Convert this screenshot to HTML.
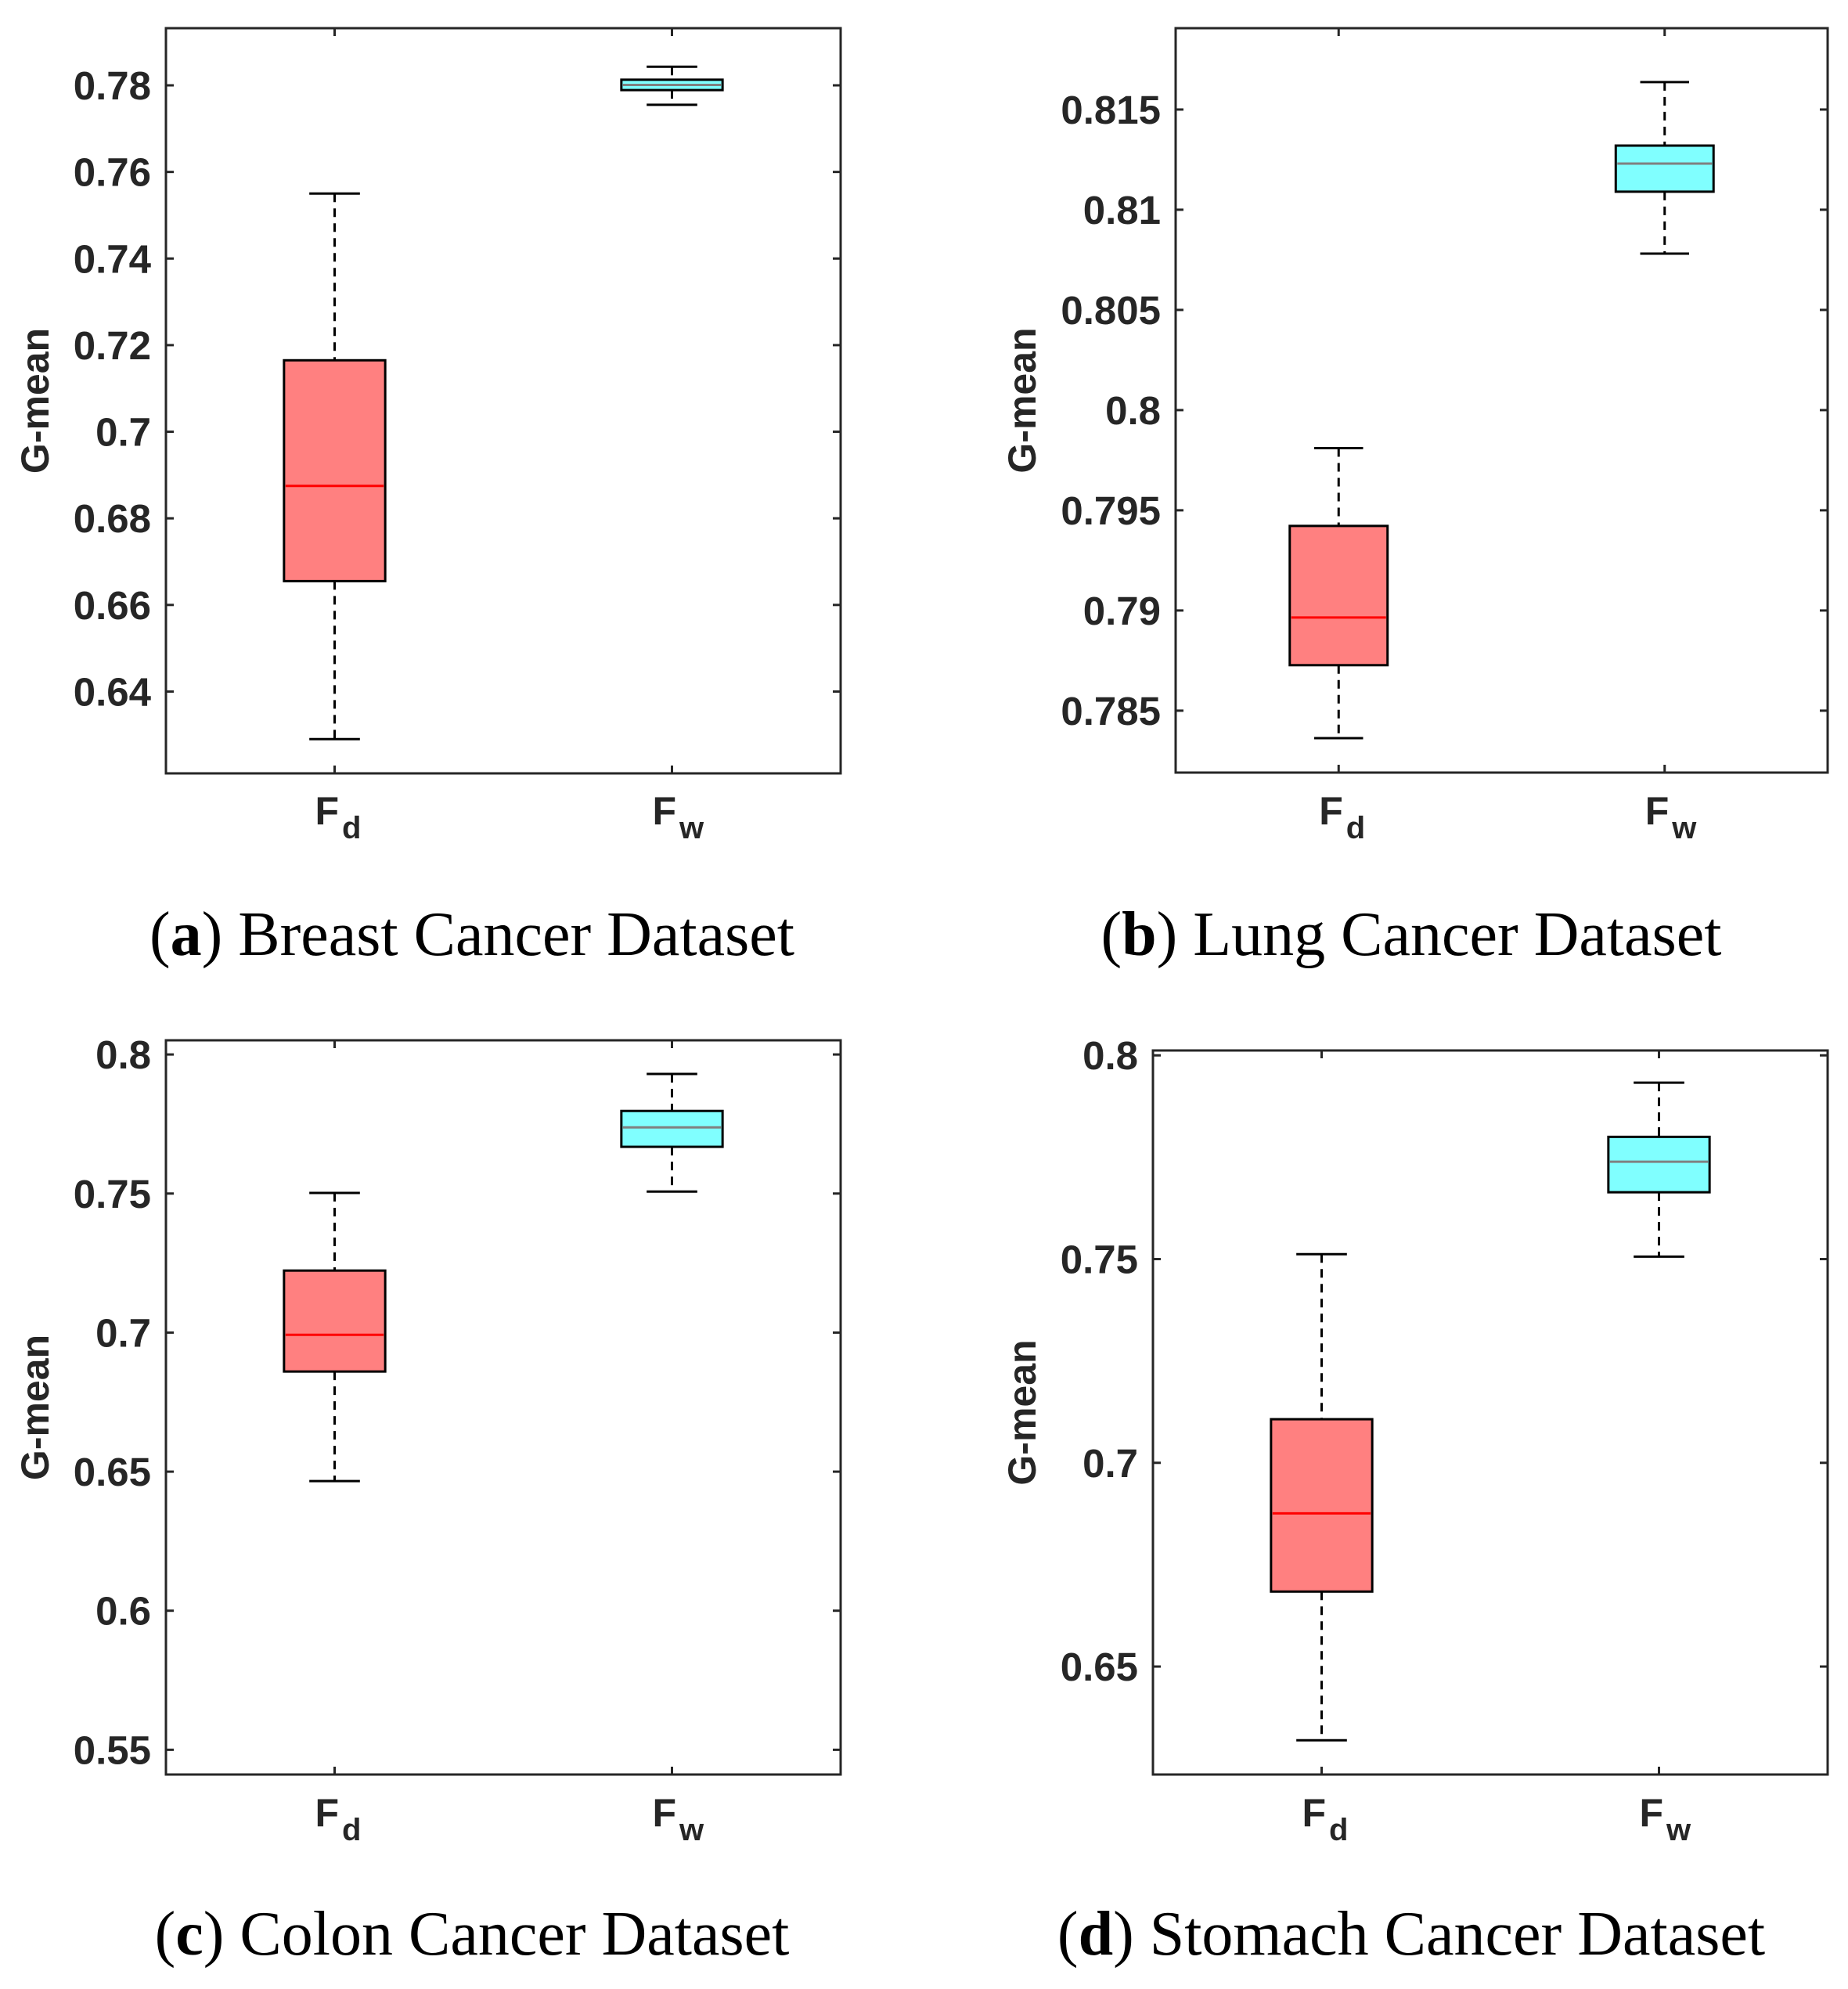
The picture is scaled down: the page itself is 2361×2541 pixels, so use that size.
<!DOCTYPE html>
<html><head><meta charset="utf-8">
<style>
html,body{margin:0;padding:0;background:#fff;}
svg{display:block;}
.tick{font-family:"Liberation Sans","DejaVu Sans",sans-serif;font-weight:bold;font-size:51px;fill:#262626;}
.ylab{font-family:"Liberation Sans","DejaVu Sans",sans-serif;font-weight:bold;font-size:50px;fill:#262626;}
.xl{font-family:"Liberation Sans","DejaVu Sans",sans-serif;font-weight:bold;font-size:50px;fill:#262626;}
.cap{font-family:"Liberation Serif","DejaVu Serif",serif;font-size:80px;fill:#000;}
</style></head>
<body>
<svg id="fig" width="2361" height="2541" viewBox="0 0 2361 2541" xmlns="http://www.w3.org/2000/svg"></svg>
<script>
const categories = ["Fd", "Fw"];
const panelTitles = ["a|Breast Cancer Dataset", "b|Lung Cancer Dataset", "c|Colon Cancer Dataset", "d|Stomach Cancer Dataset"];
// per panel: [lowerWhisker, q1, median, q3, upperWhisker] for Fd then Fw
const breastFd = [0.629, 0.6655, 0.6875, 0.7165, 0.755];
const breastFw = [0.7755, 0.7789, 0.7801, 0.7813, 0.7843];
const lungFd = [0.78363, 0.78727, 0.78965, 0.79422, 0.7981];
const lungFw = [0.80781, 0.8109, 0.8123, 0.8132, 0.81637];
const colonFd = [0.6466, 0.686, 0.6992, 0.7223, 0.7502];
const colonFw = [0.7507, 0.7668, 0.7738, 0.7797, 0.793];
const stomachFd = [0.6319, 0.6684, 0.6876, 0.7107, 0.7512];
const stomachFw = [0.7506, 0.7664, 0.7739, 0.780, 0.7933];
const breastTicks = ["0.64", "0.66", "0.68", "0.7", "0.72", "0.74", "0.76", "0.78"];
const lungTicks = ["0.785", "0.79", "0.795", "0.8", "0.805", "0.81", "0.815"];
const colonTicks = ["0.55", "0.6", "0.65", "0.7", "0.75", "0.8"];
const stomachTicks = ["0.65", "0.7", "0.75", "0.8"];
const yLimits = [[0.6211, 0.7932], [0.78191, 0.81906], [0.5411, 0.8051], [0.6235, 0.8012]];

const NS = "http://www.w3.org/2000/svg";
const fig = document.getElementById("fig");
function mk(tag, attrs, parent) {
  const e = document.createElementNS(NS, tag);
  for (const k in attrs) e.setAttribute(k, attrs[k]);
  (parent || fig).appendChild(e);
  return e;
}
const panels = [
  {box:[212,36,1074,988], ylx:45, fd:breastFd, fw:breastFw, ticks:breastTicks, capY:1220, capX:603, xlY:1053},
  {box:[1502,36,2335,987], ylx:1306, fd:lungFd, fw:lungFw, ticks:lungTicks, capY:1220, capX:1803, xlY:1053},
  {box:[212,1329,1074,2267], ylx:45, fd:colonFd, fw:colonFw, ticks:colonTicks, capY:2497, capX:603, xlY:2333},
  {box:[1473,1342,2335,2267], ylx:1306, fd:stomachFd, fw:stomachFw, ticks:stomachTicks, capY:2497, capX:1803, xlY:2333}
];
panels.forEach((p, i) => {
  const [x0, y0, x1, y1] = p.box;
  const [ymin, ymax] = yLimits[i];
  const g = mk("g", {});
  
  
  const yS = v => y1 - (v - ymin) / (ymax - ymin) * (y1 - y0);
  const unit = (x1 - x0) / 2;
  p.ticks.forEach(t => {
    const y = yS(parseFloat(t));
    mk("line", {x1:x0, x2:x0+10, y1:y, y2:y, stroke:"#262626", "stroke-width":3}, g);
    mk("line", {x1:x1, x2:x1-10, y1:y, y2:y, stroke:"#262626", "stroke-width":3}, g);
    const tx = mk("text", {x:x0-19, y:y+18, "text-anchor":"end", class:"tick"}, g);
    tx.textContent = t;
    
    
  });
  const series = [p.fd, p.fw];
  const fills = ["#ff8080", "#80ffff"];
  const meds = ["#ff0000", "#808080"];
  series.forEach((s, c) => {
    const cx = x0 + (c === 0 ? 0.5 : 1.5) * unit;
    mk("line", {x1:cx, x2:cx, y1:y0, y2:y0+10, stroke:"#262626", "stroke-width":3}, g);
    mk("line", {x1:cx, x2:cx, y1:y1, y2:y1-10, stroke:"#262626", "stroke-width":3}, g);
    const bw = 0.3 * unit, cw = bw / 2;
    const bg = mk("g", {}, g);
    
    
    mk("line", {x1:cx, x2:cx, y1:yS(s[4]), y2:yS(s[3]), stroke:"#000", "stroke-width":3, "stroke-dasharray":"11 8"}, bg);
    mk("line", {x1:cx, x2:cx, y1:yS(s[1]), y2:yS(s[0]), stroke:"#000", "stroke-width":3, "stroke-dasharray":"11 8"}, bg);
    mk("line", {x1:cx-cw/2, x2:cx+cw/2, y1:yS(s[4]), y2:yS(s[4]), stroke:"#000", "stroke-width":3}, bg);
    mk("line", {x1:cx-cw/2, x2:cx+cw/2, y1:yS(s[0]), y2:yS(s[0]), stroke:"#000", "stroke-width":3}, bg);
    mk("rect", {x:cx-bw/2, y:yS(s[3]), width:bw, height:yS(s[1])-yS(s[3]), fill:fills[c], stroke:"#000", "stroke-width":3}, bg);
    mk("line", {x1:cx-bw/2+2, x2:cx+bw/2-2, y1:yS(s[2]), y2:yS(s[2]), stroke:meds[c], "stroke-width":3}, bg);
    const xl = mk("text", {x:cx-25, y:p.xlY, class:"xl"}, g);
    
    
    xl.appendChild(document.createTextNode("F"));
    const sub = mk("tspan", {dx:4, dy:18, "font-size":"40px"}, xl);
    sub.textContent = categories[c].slice(1);
  });
  mk("rect", {x:x0, y:y0, width:x1-x0, height:y1-y0, fill:"none", stroke:"#262626", "stroke-width":3}, g);
  const yl = mk("text", {x:p.ylx, y:(y0+y1)/2, "text-anchor":"middle", class:"ylab", transform:`rotate(-90 ${p.ylx} ${(y0+y1)/2})`, dy:17}, g);
  yl.textContent = "G-mean";
  
  
  const [lt, name] = panelTitles[i].split("|");
  const cap = mk("text", {x:p.capX, y:p.capY, "text-anchor":"middle", class:"cap"}, g);
  
  
  cap.appendChild(document.createTextNode("("));
  const b = mk("tspan", {"font-weight":"bold"}, cap); b.textContent = lt;
  cap.appendChild(document.createTextNode(") " + name));
});
</script>
</body></html>
